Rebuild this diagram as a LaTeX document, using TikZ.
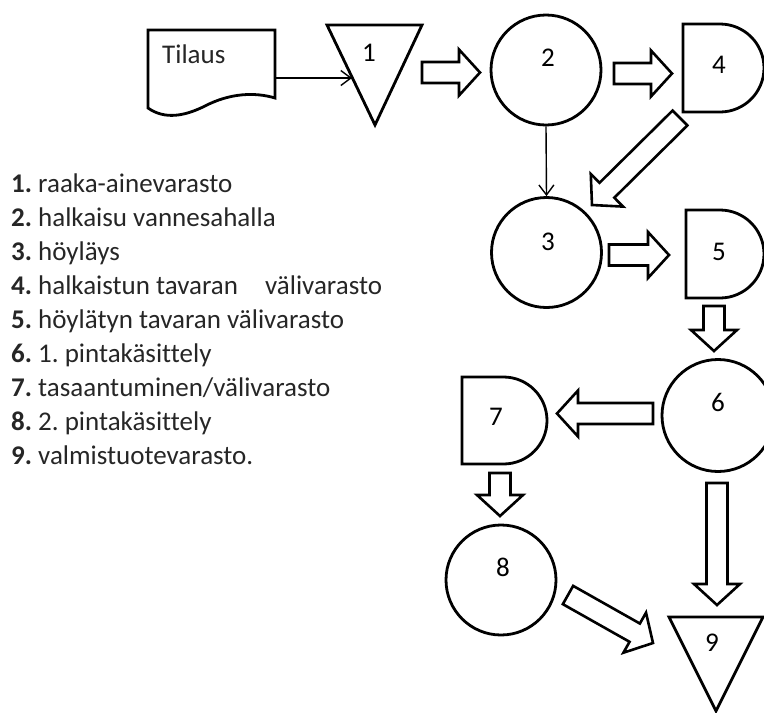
\documentclass[tikz,border=0pt]{standalone}
\usepackage{fontspec}
\setmainfont{Carlito}[Ligatures=NoCommon]
\frenchspacing
\usetikzlibrary{calc,arrows.meta}

% hollow block arrow from tail coordinate #1 to tip coordinate #2
\newcommand\blockarr[2]{%
  \coordinate (bh) at ($(#2)!21pt!(#1)$);
  \draw[blockarrow]
    ($(#1)!10.5pt!90:(#2)$) -- ($(bh)!10.5pt!90:(#2)$) -- ($(bh)!23pt!90:(#2)$)
    -- (#2)
    -- ($(bh)!23pt!-90:(#2)$) -- ($(bh)!10.5pt!-90:(#2)$) -- ($(#1)!10.5pt!-90:(#2)$) -- cycle;
}

\begin{document}
\begin{tikzpicture}[x=1pt,y=-1pt,
  outline/.style={draw=black,line width=2.8pt,line join=miter},
  circ/.style={outline,circle,minimum size=110pt,inner sep=0pt},
  lbl/.style={font=\fontsize{27}{32}\selectfont,inner sep=0pt},
  item/.style={font=\fontsize{27}{32}\selectfont,inner sep=0pt,anchor=base west,text=black!85},
  flow/.style={draw=black,line width=1.4pt,-{Straight Barb[length=10pt,width=15pt,line width=1.4pt]}},
  blockarrow/.style={draw=black,line width=2.6pt,fill=white,line join=miter},
]
\useasboundingbox (0,0) rectangle (764,713);

% order document
\draw[outline] (148,108) -- (148,30) -- (275,30) -- (275,98)
  .. controls (255,92) and (230,93) .. (205,106)
  .. controls (185,116) and (165,120) .. (148,108) -- cycle;
\node[item] (doc) at (162,63) {Tilaus};

% storages (triangles)
\draw[outline] (327,25) -- (422,25) -- (375,125) -- cycle;
\node[lbl] (t1) at (369,53) {1};
\draw[outline] (669,617) -- (763,617) -- (716,711) -- cycle;
\node[lbl] (t9) at (712,643) {9};

% operations (circles)
\node[circ] (n2) at (546,70) {};
\node[lbl] (l2) at (548,58) {2};
\node[circ] (n3) at (546.5,252.5) {};
\node[lbl] (l3) at (548,242) {3};
\node[circ,minimum size=112pt] (n6) at (718,415.5) {};
\node[lbl] (l6) at (718,402) {6};
\node[circ] (n8) at (501,580) {};
\node[lbl] (l8) at (503,567) {8};

% delays (D shapes)
\draw[outline] (683,24) -- (720,24) arc[start angle=-90,end angle=90,radius=44] -- (683,112) -- cycle;
\node[lbl] (d4) at (719,65) {4};
\draw[outline] (686,210) -- (720,210) arc[start angle=-90,end angle=90,radius=44] -- (686,298) -- cycle;
\node[lbl] (d5) at (719,252) {5};
\draw[outline] (462,377) -- (503.5,377) arc[start angle=-90,end angle=90,radius=43.5] -- (462,464) -- cycle;
\node[lbl] (d7) at (496,417) {7};

% thin connectors
\coordinate (docR) at (275,78);
\coordinate (t1L) at (352,78);
\draw[flow] (docR) -- (t1L);
\draw[flow] (n2.south) -- (n3.north);

% material flow arrows
\coordinate (a1s) at (422,72.5);   \coordinate (a1e) at (480,72.5);
\coordinate (a2s) at (614,73.5);   \coordinate (a2e) at (672,73.5);
\coordinate (a3s) at (680,118);    \coordinate (a3e) at (592,205);
\coordinate (a4s) at (609,255);    \coordinate (a4e) at (669,255);
\coordinate (a5s) at (714,306);    \coordinate (a5e) at (714,351);
\coordinate (a6s) at (653,413.5);  \coordinate (a6e) at (557,413.5);
\coordinate (a7s) at (500,473);    \coordinate (a7e) at (500,516);
\coordinate (a8s) at (568,595);    \coordinate (a8e) at (653,643);
\coordinate (a9s) at (717,483);    \coordinate (a9e) at (717,605);
\blockarr{a1s}{a1e}
\blockarr{a2s}{a2e}
\blockarr{a3s}{a3e}
\blockarr{a4s}{a4e}
\blockarr{a5s}{a5e}
\blockarr{a6s}{a6e}
\blockarr{a7s}{a7e}
\blockarr{a8s}{a8e}
\blockarr{a9s}{a9e}

% legend
\node[item] (i1) at (11,192) {\textbf{1.} raaka-ainevarasto};
\node[item] (i2) at (11,226) {\textbf{2.} halkaisu vannesahalla};
\node[item] (i3) at (11,260) {\textbf{3.} höyläys};
\node[item] (i4) at (11,294) {\textbf{4.} halkaistun tavaran\hspace{27pt}välivarasto};
\node[item] (i5) at (11,328) {\textbf{5.} höylätyn tavaran välivarasto};
\node[item] (i6) at (11,362) {\textbf{6.} 1. pintakäsittely};
\node[item] (i7) at (11,396) {\textbf{7.} tasaantuminen/välivarasto};
\node[item] (i8) at (11,430) {\textbf{8.} 2. pintakäsittely};
\node[item] (i9) at (11,464) {\textbf{9.} valmistuotevarasto.};
\end{tikzpicture}
\end{document}
